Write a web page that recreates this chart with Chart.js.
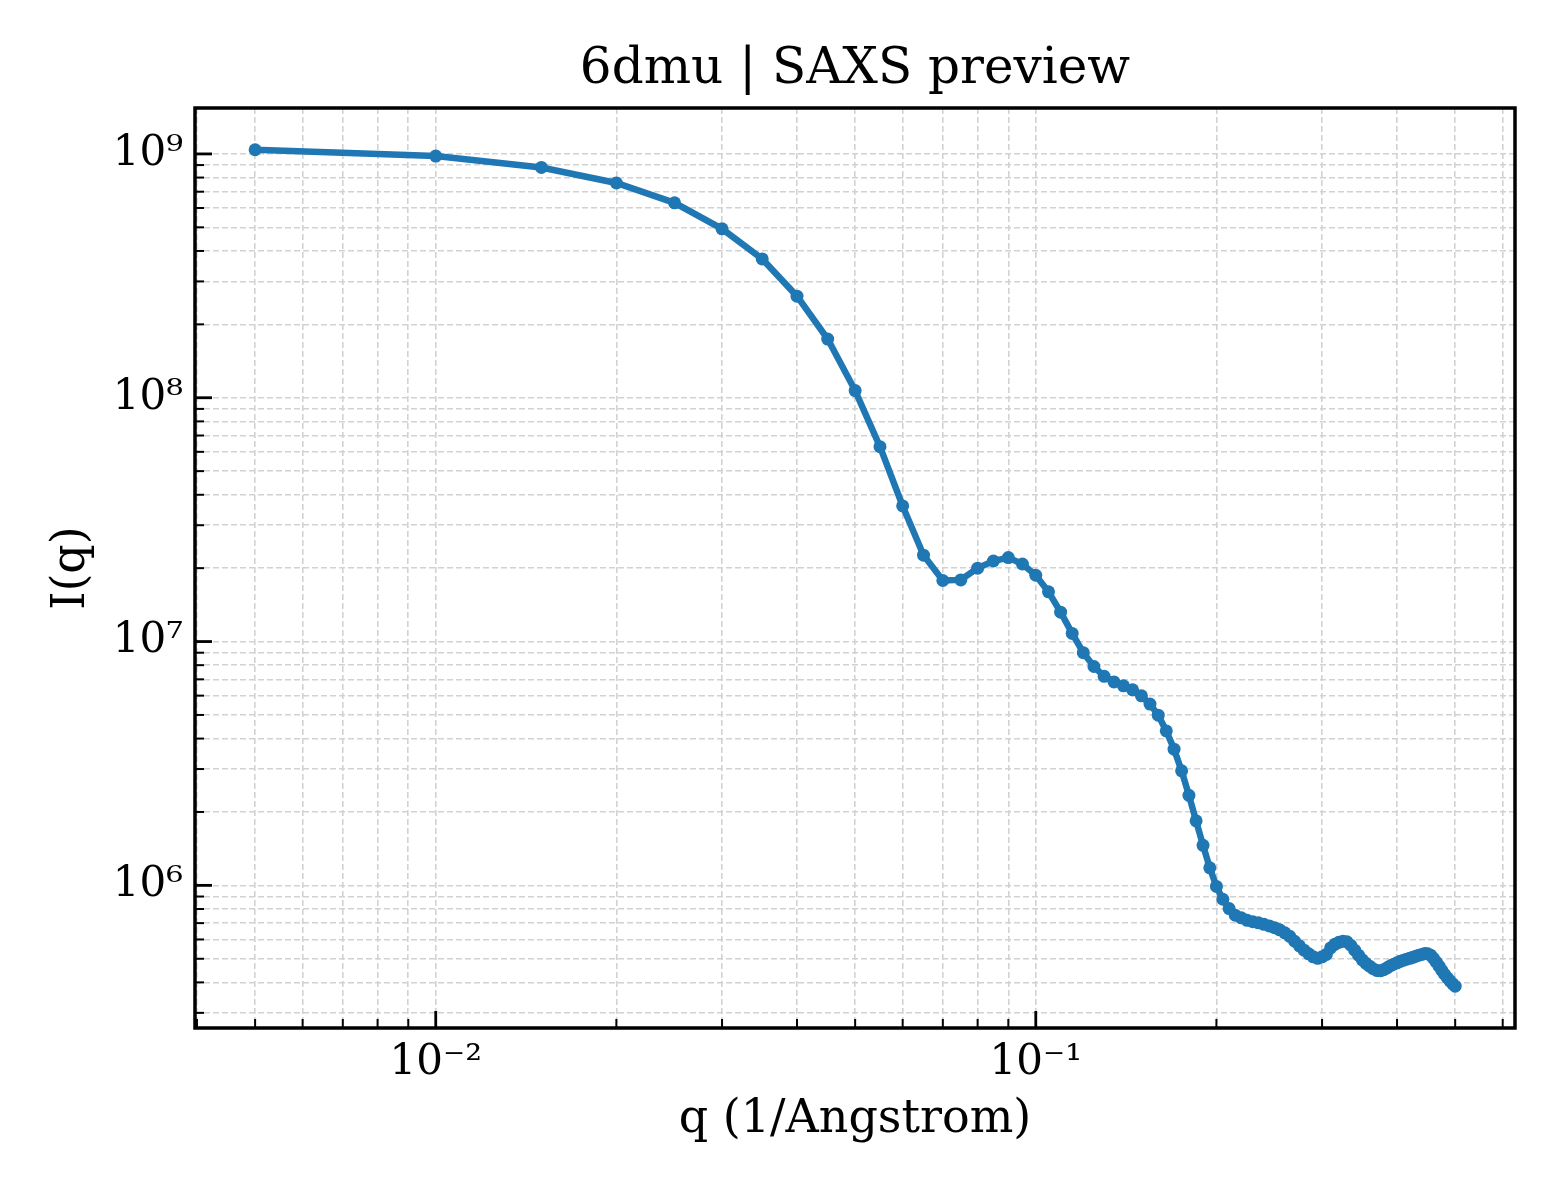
<!DOCTYPE html>
<html>
<head>
<meta charset="utf-8">
<script src="https://cdn.jsdelivr.net/npm/chart.js@4.4.1/dist/chart.umd.min.js"></script>
<style>
  html, body { margin: 0; padding: 0; background: #fff; }
  #wrap { width: 1560px; height: 1200px; }
</style>
</head>
<body>
<div id="wrap"><canvas id="saxs" width="1560" height="1200"></canvas></div>
<script>
// q values (1/Angstrom)
const qValues = [
    0.005, 0.010, 0.015, 0.020, 0.025, 0.030, 0.035, 0.040, 0.045, 0.050,
    0.055, 0.060, 0.065, 0.070, 0.075, 0.080, 0.085, 0.090, 0.095, 0.100,
    0.105, 0.110, 0.115, 0.120, 0.125, 0.130, 0.135, 0.140, 0.145, 0.150,
    0.155, 0.160, 0.165, 0.170, 0.175, 0.180, 0.185, 0.190, 0.195, 0.200,
    0.205, 0.210, 0.215, 0.220, 0.225, 0.230, 0.235, 0.240, 0.245, 0.250,
    0.255, 0.260, 0.265, 0.270, 0.275, 0.280, 0.285, 0.290, 0.295, 0.300,
    0.305, 0.310, 0.315, 0.320, 0.325, 0.330, 0.335, 0.340, 0.345, 0.350,
    0.355, 0.360, 0.365, 0.370, 0.375, 0.380, 0.385, 0.390, 0.395, 0.400,
    0.405, 0.410, 0.415, 0.420, 0.425, 0.430, 0.435, 0.440, 0.445, 0.450,
    0.455, 0.460, 0.465, 0.470, 0.475, 0.480, 0.485, 0.490, 0.495, 0.500
];

// I(q)
const intensity = [
    1.04e9, 9.8e8, 8.8e8, 7.6e8, 6.3e8, 4.93e8, 3.71e8, 2.61e8, 1.74e8, 1.07e8,
    6.3e7, 3.6e7, 2.26e7, 1.78e7, 1.79e7, 2.0e7, 2.14e7, 2.21e7, 2.08e7, 1.87e7,
    1.60e7, 1.32e7, 1.08e7, 9.0e6, 7.9e6, 7.2e6, 6.83e6, 6.58e6, 6.34e6, 5.99e6,
    5.54e6, 4.99e6, 4.30e6, 3.62e6, 2.95e6, 2.34e6, 1.84e6, 1.46e6, 1.18e6, 9.9e5,
    8.77e5, 8.03e5, 7.54e5, 7.36e5, 7.19e5, 7.09e5, 7.02e5, 6.92e5, 6.82e5, 6.70e5,
    6.57e5, 6.39e5, 6.18e5, 5.90e5, 5.65e5, 5.42e5, 5.24e5, 5.09e5, 5.02e5, 5.09e5,
    5.21e5, 5.54e5, 5.73e5, 5.84e5, 5.90e5, 5.87e5, 5.68e5, 5.42e5, 5.17e5, 4.95e5,
    4.79e5, 4.66e5, 4.55e5, 4.48e5, 4.46e5, 4.51e5, 4.59e5, 4.68e5, 4.75e5, 4.81e5,
    4.88e5, 4.93e5, 4.98e5, 5.02e5, 5.07e5, 5.12e5, 5.17e5, 5.21e5, 5.26e5, 5.24e5,
    5.17e5, 5.02e5, 4.84e5, 4.66e5, 4.48e5, 4.32e5, 4.18e5, 4.06e5, 3.95e5, 3.86e5
];

// axis ticks
const xMajorTicks = [0.01, 0.1];
const xMajorLabels = ['10\u207B\u00B2', '10\u207B\u00B9'];
const xMinorTicks = [0.004, 0.005, 0.006, 0.007, 0.008, 0.009,
    0.02, 0.03, 0.04, 0.05, 0.06, 0.07, 0.08, 0.09,
    0.2, 0.3, 0.4, 0.5, 0.6];
const yMajorTicks = [1e6, 1e7, 1e8, 1e9];
const yMajorLabels = ['10\u2076', '10\u2077', '10\u2078', '10\u2079'];
const yMinorTicks = [3e5, 4e5, 5e5, 6e5, 7e5, 8e5, 9e5,
    2e6, 3e6, 4e6, 5e6, 6e6, 7e6, 8e6, 9e6,
    2e7, 3e7, 4e7, 5e7, 6e7, 7e7, 8e7, 9e7,
    2e8, 3e8, 4e8, 5e8, 6e8, 7e8, 8e8, 9e8];

const FONT = "'DejaVu Serif', 'Liberation Serif', serif";

function tickList(major, minor) {
    return major.concat(minor).sort((a, b) => a - b).map(v => ({ value: v }));
}

function labelFor(major, labels) {
    return value => {
        const i = major.findIndex(m => Math.abs(m - value) / m < 1e-9);
        return i >= 0 ? labels[i] : '';
    };
}

// inward ticks + full black frame, like the matplotlib axes box
const frameAndTicks = {
    id: 'frameAndTicks',
    afterDraw(chart) {
        const { ctx, chartArea: a, scales: { x, y } } = chart;
        ctx.save();
        ctx.strokeStyle = '#000';
        const seg = (x1, y1, x2, y2) => {
            ctx.beginPath();
            ctx.moveTo(x1, y1);
            ctx.lineTo(x2, y2);
            ctx.stroke();
        };
        ctx.lineWidth = 2;
        xMinorTicks.forEach(v => {
            const px = x.getPixelForValue(v);
            if (px > a.left && px < a.right) seg(px, a.bottom, px, a.bottom - 9);
        });
        yMinorTicks.forEach(v => {
            const py = y.getPixelForValue(v);
            if (py > a.top && py < a.bottom) seg(a.left, py, a.left + 9, py);
        });
        ctx.lineWidth = 2.8;
        xMajorTicks.forEach(v => {
            const px = x.getPixelForValue(v);
            seg(px, a.bottom, px, a.bottom - 17);
        });
        yMajorTicks.forEach(v => {
            const py = y.getPixelForValue(v);
            seg(a.left, py, a.left + 17, py);
        });
        ctx.lineWidth = 3.5;
        ctx.strokeRect(a.left, a.top, a.right - a.left, a.bottom - a.top);
        ctx.restore();
    }
};

document.addEventListener('DOMContentLoaded', () => {
    const ctx = document.getElementById('saxs').getContext('2d');
    const points = qValues.map((q, i) => ({ x: q, y: intensity[i] }));

    const saxsChart = new Chart(ctx, {
        type: 'line',
        data: {
            datasets: [{
                label: '6dmu',
                data: points,
                borderColor: '#1f77b4',
                backgroundColor: '#1f77b4',
                borderWidth: 6.5,
                pointRadius: 6.5,
                pointBorderWidth: 0,
                pointHoverRadius: 6.5,
                tension: 0,
                fill: false
            }]
        },
        plugins: [frameAndTicks],
        options: {
            responsive: false,
            animation: false,
            devicePixelRatio: 1,
            layout: { padding: { left: 0, right: 45, top: 0, bottom: 0 } },
            plugins: {
                legend: { display: false },
                tooltip: { enabled: false },
                title: {
                    display: true,
                    fullSize: false,
                    text: '6dmu | SAXS preview',
                    color: '#000',
                    font: { family: FONT, size: 50, weight: 'normal' },
                    padding: { top: 40, bottom: 8 }
                }
            },
            scales: {
                x: {
                    type: 'logarithmic',
                    min: 0.00397,
                    max: 0.629,
                    afterBuildTicks: scale => { scale.ticks = tickList(xMajorTicks, xMinorTicks); },
                    afterFit: scale => { scale.height = 172; },
                    ticks: {
                        autoSkip: false,
                        maxRotation: 0,
                        padding: 10,
                        color: '#000',
                        font: { family: FONT, size: 42 },
                        callback: labelFor(xMajorTicks, xMajorLabels)
                    },
                    grid: { color: '#d2d2d2', lineWidth: 1.6, drawTicks: false },
                    border: { display: false, dash: [6, 3] },
                    title: {
                        display: true,
                        text: 'q (1/Angstrom)',
                        color: '#000',
                        font: { family: FONT, size: 46 },
                        padding: { top: 0, bottom: 52 }
                    }
                },
                y: {
                    type: 'logarithmic',
                    min: 2.6e5,
                    max: 1.543e9,
                    afterBuildTicks: scale => { scale.ticks = tickList(yMajorTicks, yMinorTicks); },
                    afterFit: scale => { scale.width = 195; },
                    ticks: {
                        autoSkip: false,
                        padding: 12,
                        color: '#000',
                        font: { family: FONT, size: 42 },
                        callback: labelFor(yMajorTicks, yMajorLabels)
                    },
                    grid: { color: '#d2d2d2', lineWidth: 1.6, drawTicks: false },
                    border: { display: false, dash: [6, 3] },
                    title: {
                        display: true,
                        text: 'I(q)',
                        color: '#000',
                        font: { family: FONT, size: 46 },
                        padding: { top: 44, bottom: 0 }
                    }
                }
            }
        }
    });
});
</script>
</body>
</html>
